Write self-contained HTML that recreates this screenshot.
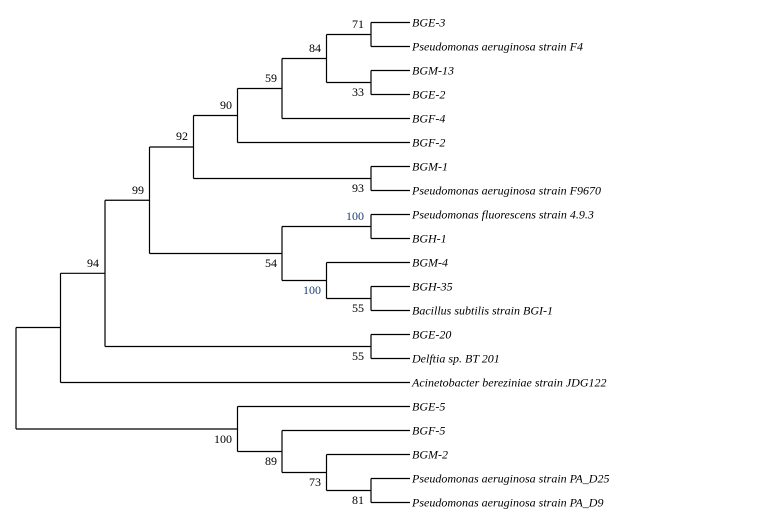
<!DOCTYPE html>
<html><head><meta charset="utf-8"><style>
html,body{margin:0;padding:0;background:#fff;}
svg{display:block;}
.l{font-family:"Liberation Serif",serif;font-style:italic;font-size:12px;fill:#000;}
.n{font-family:"Liberation Serif",serif;font-size:12px;fill:#000;text-anchor:end;}
.b{fill:#1a3f7a;}
</style></head><body>
<svg width="782" height="518" viewBox="0 0 782 518" xmlns="http://www.w3.org/2000/svg">
<g stroke="#000" stroke-width="1.2" fill="none">
<!-- leaves -->
<path d="M371 22.5H410M371 46.5H410M371 70.5H410M371 94.5H410M282 118.5H410M237.5 142.5H410M371 166.5H410M371 190.5H410M371 214.5H410M371 238.5H410M326.5 262.5H410M371 286.5H410M371 310.5H410M371 334.5H410M371 358.5H410M60.5 382.5H410M237.5 406.5H410M282 430.5H410M326.5 454.5H410M371 478.5H410M371 502.5H410"/>
<!-- internal -->
<path d="M371 22.5V46.5M371 70.5V94.5M326.5 34.5H371M326.5 82.5H371M326.5 34.5V82.5M282 58.5H326.5M282 58.5V118.5M237.5 88.5H282M237.5 88.5V142.5M193.5 115.5H237.5M371 166.5V190.5M193.5 178.5H371M193.5 115.5V178.5M149.5 147H193.5"/>
<path d="M371 214.5V238.5M371 286.5V310.5M326.5 298.5H371M326.5 262.5V298.5M282 280.5H326.5M282 226.5H371M282 226.5V280.5M149.5 253.5H282M149.5 147V253.5M105 200.25H149.5M371 334.5V358.5M105 346.5H371M105 200.25V346.5M60.5 273.3H105M60.5 273.3V382.5M16 327.5H60.5"/>
<path d="M371 478.5V502.5M326.5 490.5H371M326.5 454.5V490.5M282 472.5H326.5M282 430.5V472.5M237.5 451.5H282M237.5 406.5V451.5M16 429H237.5M16 327.5V429"/>
</g>
<g class="n">
<text x="364" y="28">71</text>
<text x="321" y="52">84</text>
<text x="277" y="82">59</text>
<text x="232" y="109">90</text>
<text x="188" y="140">92</text>
<text x="144" y="194">99</text>
<text x="364" y="96">33</text>
<text x="364" y="192">93</text>
<text x="364" y="220" class="n b">100</text>
<text x="277" y="267">54</text>
<text x="321" y="294" class="n b">100</text>
<text x="364" y="312">55</text>
<text x="364" y="360">55</text>
<text x="99" y="267">94</text>
<text x="232" y="443">100</text>
<text x="277" y="465">89</text>
<text x="321" y="486">73</text>
<text x="364" y="504">81</text>
</g>
<g class="l">
<text x="412" y="26.5">BGE-3</text>
<text x="412" y="50.5">Pseudomonas aeruginosa strain F4</text>
<text x="412" y="74.5">BGM-13</text>
<text x="412" y="98.5">BGE-2</text>
<text x="412" y="122.5">BGF-4</text>
<text x="412" y="146.5">BGF-2</text>
<text x="412" y="170.5">BGM-1</text>
<text x="412" y="194.5">Pseudomonas aeruginosa strain F9670</text>
<text x="412" y="218.5">Pseudomonas fluorescens strain 4.9.3</text>
<text x="412" y="242.5">BGH-1</text>
<text x="412" y="266.5">BGM-4</text>
<text x="412" y="290.5">BGH-35</text>
<text x="412" y="314.5">Bacillus subtilis strain BGI-1</text>
<text x="412" y="338.5">BGE-20</text>
<text x="412" y="362.5">Delftia sp. BT 201</text>
<text x="412" y="386.5">Acinetobacter bereziniae strain JDG122</text>
<text x="412" y="410.5">BGE-5</text>
<text x="412" y="434.5">BGF-5</text>
<text x="412" y="458.5">BGM-2</text>
<text x="412" y="482.5">Pseudomonas aeruginosa strain PA_D25</text>
<text x="412" y="506.5">Pseudomonas aeruginosa strain PA_D9</text>
</g>
</svg>
</body></html>
